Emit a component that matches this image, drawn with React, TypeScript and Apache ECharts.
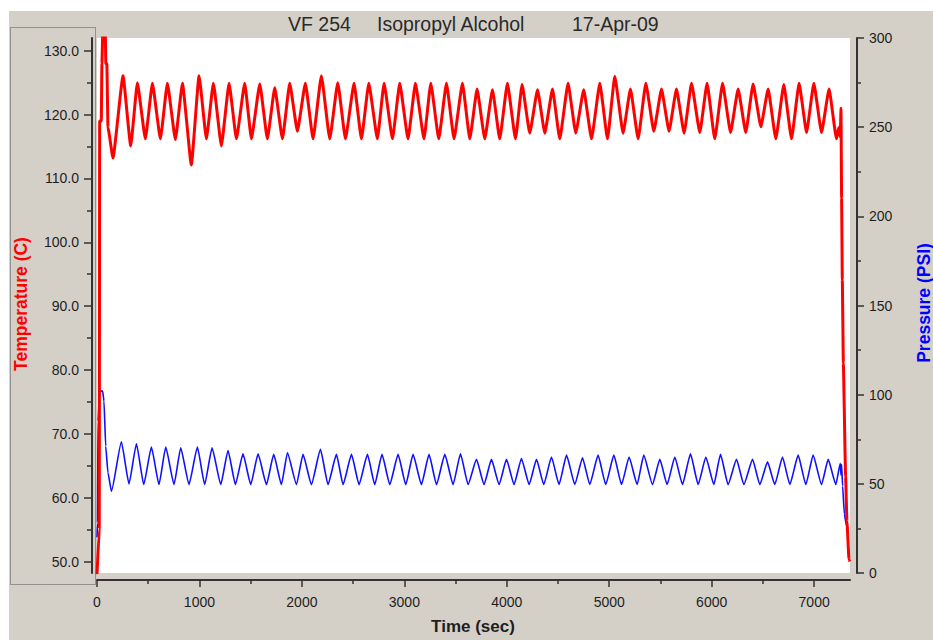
import React, { useEffect, useRef } from "react";
import * as echarts from "echarts";

// [time (sec), temperature (C)]
const temperatureReadings: [number, number][] = [
  [0, 48], [22, 55], [26, 119], [42, 119], [48, 128], [58, 134], [80, 134], [86, 128], [96, 128], [107, 118], [156, 113.2],
  [254, 126.1], [329, 115.1], [394, 125.0], [472, 116.2], [541, 124.9], [619, 116.2], [687, 124.9], [765, 116.1],
  [834, 124.9], [921, 112.1], [996, 126.1], [1068, 116.2], [1136, 124.9], [1214, 115.1], [1289, 124.9], [1361, 116.2],
  [1442, 124.9], [1507, 116.2], [1589, 124.8], [1663, 116.2], [1735, 124.2], [1810, 116.2], [1881, 124.9], [1956, 117.4],
  [2034, 124.9], [2109, 116.2], [2190, 126.1], [2272, 116.2], [2350, 125.0], [2425, 116.2], [2509, 124.9], [2581, 116.2],
  [2653, 124.9], [2737, 116.2], [2802, 124.9], [2884, 116.2], [2955, 124.9], [3036, 116.2], [3108, 124.9], [3192, 116.2],
  [3258, 124.9], [3336, 116.2], [3411, 124.9], [3485, 116.2], [3567, 124.9], [3639, 116.2], [3710, 124.0], [3785, 116.2],
  [3860, 123.9], [3931, 116.2], [4006, 124.9], [4085, 116.2], [4149, 124.7], [4224, 117.1], [4300, 123.9], [4371, 117.1],
  [4446, 124.0], [4517, 116.2], [4598, 124.9], [4673, 117.1], [4751, 123.9], [4827, 116.2], [4908, 124.9], [4983, 116.2],
  [5054, 126.0], [5135, 117.1], [5207, 124.0], [5282, 116.2], [5357, 124.9], [5435, 117.4], [5510, 124.0], [5584, 117.4],
  [5656, 124.0], [5731, 117.1], [5803, 124.9], [5884, 117.2], [5955, 124.9], [6030, 116.2], [6106, 124.9], [6184, 117.2],
  [6258, 124.0], [6333, 117.2], [6404, 124.8], [6480, 118.1], [6551, 124.0], [6626, 116.2], [6704, 124.7], [6779, 116.2],
  [6853, 124.9], [6926, 117.2], [6997, 124.9], [7072, 117.2], [7146, 124.0], [7218, 116.2],
  [7240, 118], [7255, 116.5], [7262, 121.0], [7268, 106.9], [7275, 94.1], [7285, 81.1], [7307, 63.3], [7320, 56.3],
  [7340, 50.3], [7348, 50],
];

// [time (sec), pressure (PSI)]
const pressureReadings: [number, number][] = [
  [0, 20], [5, 28], [10, 85], [25, 102], [55, 102], [68, 96.4], [85, 71.1], [107, 56.2], [141, 45.8],
  [238, 73.6], [312, 50.0], [385, 72.5], [456, 49.6], [531, 70.6], [605, 49.6], [671, 70.6], [752, 49.6],
  [817, 70.2], [898, 49.6], [980, 70.6], [1051, 49.6], [1123, 70.2], [1208, 49.6], [1279, 68.7], [1351, 49.6],
  [1425, 66.8], [1501, 49.6], [1572, 66.8], [1654, 49.6], [1725, 66.5], [1800, 49.6], [1859, 67.4], [1947, 49.6],
  [2011, 66.5], [2093, 49.6], [2181, 69.3], [2255, 49.6], [2337, 66.5], [2402, 49.6], [2484, 66.5], [2558, 49.6],
  [2640, 66.5], [2711, 49.6], [2782, 66.5], [2858, 49.6], [2939, 66.5], [3014, 49.6], [3085, 66.5], [3167, 49.6],
  [3241, 66.5], [3314, 49.6], [3395, 66.5], [3476, 49.6], [3548, 66.8], [3622, 49.6], [3704, 63.7], [3778, 49.6],
  [3850, 63.7], [3925, 49.6], [3997, 63.7], [4071, 49.6], [4143, 64.2], [4218, 49.6], [4290, 63.7], [4361, 49.6],
  [4436, 65.0], [4510, 49.6], [4583, 66.1], [4664, 49.6], [4739, 64.6], [4810, 49.6], [4891, 66.1], [4966, 49.6],
  [5045, 66.1], [5120, 49.6], [5194, 65.0], [5272, 49.6], [5337, 66.1], [5422, 49.6], [5494, 63.7], [5565, 49.6],
  [5640, 65.0], [5715, 49.6], [5793, 66.8], [5868, 49.6], [5943, 65.0], [6021, 49.6], [6086, 66.5], [6160, 49.6],
  [6242, 63.7], [6314, 49.6], [6399, 63.7], [6470, 49.6], [6545, 62.3], [6616, 49.6], [6691, 65.0], [6763, 49.6],
  [6844, 66.1], [6919, 49.6], [6990, 66.1], [7072, 49.6], [7137, 63.7], [7212, 49.6],
  [7255, 61.5], [7262, 55], [7268, 61], [7278, 48.7], [7295, 33], [7315, 27], [7330, 25],
];

const timeTicks = [0, 1000, 2000, 3000, 4000, 5000, 6000, 7000];
const timeMinorTicks = [500, 1500, 2500, 3500, 4500, 5500, 6500];
const temperatureTicks = [50, 60, 70, 80, 90, 100, 110, 120, 130];
const temperatureMinorTicks = [55, 65, 75, 85, 95, 105, 115, 125];
const titleParts = ["VF 254", "Isopropyl Alcohol", "17-Apr-09"];
const axisNames = { temperature: "Temperature (C)", pressure: "Pressure (PSI)", time: "Time (sec)" };

const FONT = "'Liberation Sans', Arial, sans-serif";
const AXIS_COLOR = "#333333";
const LABEL_COLOR = "#1e1e1e";

export default function App() {
  const ref = useRef<HTMLDivElement>(null);

  useEffect(() => {
    if (!ref.current) return;
    const chart = echarts.init(ref.current, null, { renderer: "svg" });

    const tMin = 48.2;
    const tMax = 132;
    const xMax = 7350;

    const axisLine = { show: true, onZero: false, lineStyle: { color: AXIS_COLOR, width: 2 } };
    const hiddenLine = { show: false, onZero: false };
    const tickLine = { color: AXIS_COLOR, width: 1.5 };
    const labelStyle = { color: LABEL_COLOR, fontSize: 14, fontFamily: FONT };

    chart.setOption({
      animation: false,
      backgroundColor: "#d4d0c8",
      grid: {
        left: 97,
        right: 83,
        top: 38,
        bottom: 67,
        show: true,
        backgroundColor: "#ffffff",
        borderWidth: 0,
      },
      xAxis: [
        {
          type: "value",
          min: 0,
          max: xMax,
          position: "bottom",
          offset: 7,
          axisLine,
          axisTick: { show: true, customValues: timeTicks, length: 7, lineStyle: tickLine },
          axisLabel: { ...labelStyle, customValues: timeTicks, margin: 15, formatter: (v: number) => String(v) },
          splitLine: { show: false },
        },
        {
          type: "value",
          min: 0,
          max: xMax,
          position: "bottom",
          offset: 7,
          axisLine: hiddenLine,
          axisTick: { show: true, customValues: timeMinorTicks, length: 4, lineStyle: tickLine },
          axisLabel: { show: false },
          splitLine: { show: false },
        },
      ],
      yAxis: [
        {
          type: "value",
          min: tMin,
          max: tMax,
          position: "left",
          offset: 5,
          axisLine,
          axisTick: { show: true, customValues: temperatureTicks, length: 8, lineStyle: tickLine },
          axisLabel: {
            ...labelStyle,
            customValues: temperatureTicks,
            margin: 13,
            formatter: (v: number) => v.toFixed(1),
          },
          splitLine: { show: false },
        },
        {
          type: "value",
          min: 0,
          max: 300,
          interval: 50,
          position: "right",
          offset: 7,
          axisLine,
          axisTick: { show: true, length: 7, lineStyle: tickLine },
          minorTick: { show: true, splitNumber: 2, length: 4, lineStyle: tickLine },
          axisLabel: { ...labelStyle, margin: 12, formatter: (v: number) => String(v) },
          splitLine: { show: false },
          minorSplitLine: { show: false },
        },
        {
          type: "value",
          min: tMin,
          max: tMax,
          position: "left",
          offset: 5,
          axisLine: hiddenLine,
          axisTick: { show: true, customValues: temperatureMinorTicks, length: 5, lineStyle: tickLine },
          axisLabel: { show: false },
          splitLine: { show: false },
        },
      ],
      series: [
        {
          name: "Pressure",
          type: "line",
          xAxisIndex: 0,
          yAxisIndex: 1,
          data: pressureReadings,
          showSymbol: false,
          smooth: 0.15,
          smoothMonotone: "x",
          lineStyle: { color: "#1010ff", width: 1.6 },
          z: 3,
        },
        {
          name: "Temperature",
          type: "line",
          xAxisIndex: 0,
          yAxisIndex: 0,
          data: temperatureReadings,
          showSymbol: false,
          smooth: 0.12,
          smoothMonotone: "x",
          lineStyle: { color: "#ff0000", width: 3 },
          z: 4,
        },
      ],
      graphic: [
        { type: "rect", shape: { x: 0, y: 0, width: 933, height: 11 }, style: { fill: "#ffffff" }, silent: true },
        { type: "rect", shape: { x: 0, y: 0, width: 9, height: 640 }, style: { fill: "#ffffff" }, silent: true },
        {
          type: "rect",
          shape: { x: 10.5, y: 27.5, width: 85, height: 557 },
          style: { fill: "none", stroke: "#555555", lineWidth: 1, lineDash: [1, 1] },
          silent: true,
        },
        {
          type: "text",
          x: 288,
          y: 24,
          style: { text: titleParts[0], fill: "#2a2a2a", font: `19.5px ${FONT}`, align: "left", verticalAlign: "middle", textAlign: "left", textVerticalAlign: "middle" },
        },
        {
          type: "text",
          x: 377,
          y: 24,
          style: { text: titleParts[1], fill: "#2a2a2a", font: `19.5px ${FONT}`, align: "left", verticalAlign: "middle", textAlign: "left", textVerticalAlign: "middle" },
        },
        {
          type: "text",
          x: 572,
          y: 24,
          style: { text: titleParts[2], fill: "#2a2a2a", font: `19.5px ${FONT}`, align: "left", verticalAlign: "middle", textAlign: "left", textVerticalAlign: "middle" },
        },
        {
          type: "text",
          x: 21,
          y: 304,
          rotation: Math.PI / 2,
          style: { text: axisNames.temperature, fill: "#ff0000", font: `bold 17.5px ${FONT}`, align: "center", verticalAlign: "middle", textAlign: "center", textVerticalAlign: "middle" },
        },
        {
          type: "text",
          x: 924,
          y: 303,
          rotation: Math.PI / 2,
          style: { text: axisNames.pressure, fill: "#0000ff", font: `bold 17.5px ${FONT}`, align: "center", verticalAlign: "middle", textAlign: "center", textVerticalAlign: "middle" },
        },
        {
          type: "text",
          x: 473,
          y: 626,
          style: { text: axisNames.time, fill: "#1e1e1e", font: `bold 17px ${FONT}`, align: "center", verticalAlign: "middle", textAlign: "center", textVerticalAlign: "middle" },
        },
      ],
    });

    return () => chart.dispose();
  }, []);

  return (
    <div
      ref={ref}
      style={{ position: "fixed", left: 0, top: 0, width: 933, height: 640 }}
    />
  );
}
